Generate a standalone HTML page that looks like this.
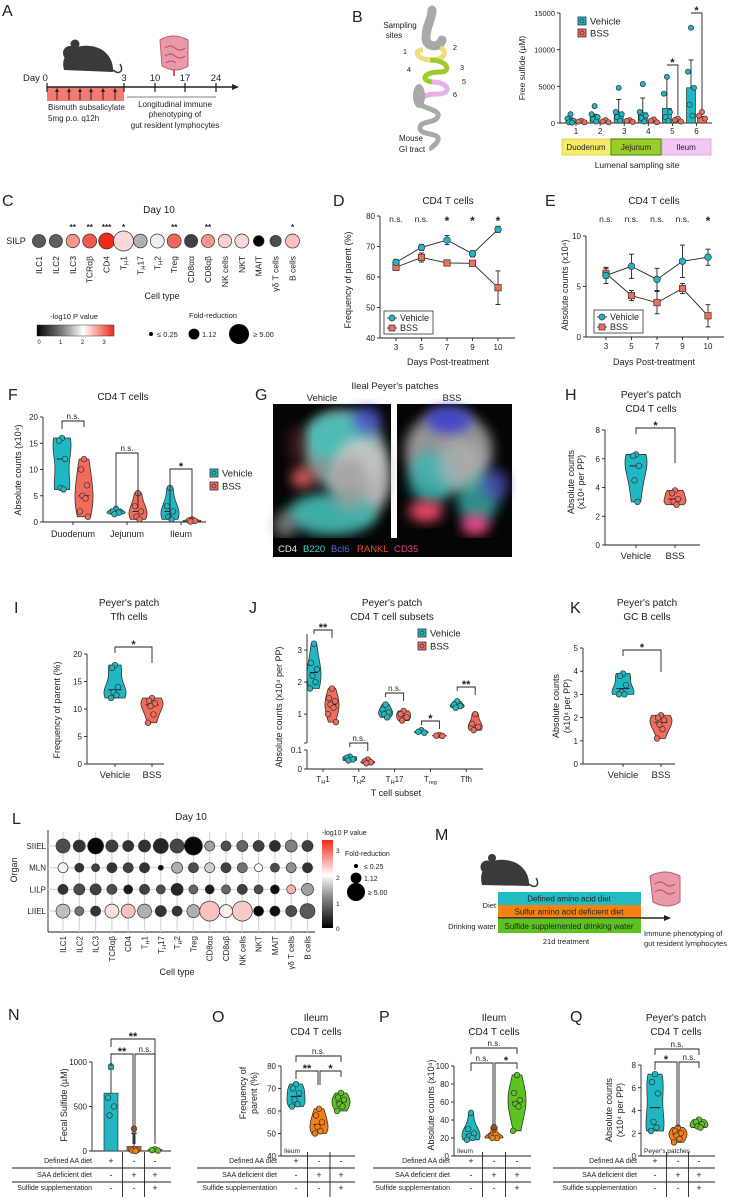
<!DOCTYPE html>
<html><head><meta charset="utf-8">
<style>
html,body{margin:0;padding:0;background:#fff;}
svg{display:block;font-family:"Liberation Sans",Arial,sans-serif;}
</style></head>
<body>
<svg id="fig" width="731" height="1199" viewBox="0 0 731 1199" xmlns="http://www.w3.org/2000/svg">
<defs>
<filter id="blur3" x="-20%" y="-20%" width="140%" height="140%"><feGaussianBlur stdDeviation="3"/></filter>
<filter id="blur6" x="-30%" y="-30%" width="160%" height="160%"><feGaussianBlur stdDeviation="6"/></filter>
<linearGradient id="gradH" x1="0" x2="1" y1="0" y2="0"><stop offset="0" stop-color="#000"/><stop offset="0.33" stop-color="#808080"/><stop offset="0.6" stop-color="#fff"/><stop offset="1" stop-color="#ee2a1a"/></linearGradient>
<linearGradient id="gradV" x1="0" x2="0" y1="1" y2="0"><stop offset="0" stop-color="#000"/><stop offset="0.33" stop-color="#808080"/><stop offset="0.6" stop-color="#fff"/><stop offset="1" stop-color="#ee2a1a"/></linearGradient>
</defs>
</svg>
<script>
// ---------------- DATA ----------------
const bSites = ['1','2','3','4','5','6'];
const bVehMean = [600, 900, 1500, 1400, 2000, 4800];
const bVehErr = [700, 1200, 3200, 3400, 6300, 8600];
const bBssMean = [200, 250, 300, 350, 400, 900];
const bVehPts = [[1200,600,300,100,50],[2300,1200,800,500,200],[4800,1500,1200,800,300],[5300,1500,1000,700,200],[6300,4000,1500,800,300],[13000,7000,4800,2500,1000]];
const bBssPts = [[300,200,100],[400,200,100],[400,300,150],[500,300,100],[600,400,200],[1500,1000,600]];

const cCells = ['ILC1','ILC2','ILC3','TCRαβ','CD4','T~H~1','T~H~17','T~H~2','Treg','CD8αα','CD8αβ','NK cells','NKT','MAIT','γδ T cells','B cells'];
const cPval = [0.7,0.75,2.5,2.9,3.2,2.05,1.3,1.7,2.8,0.5,2.5,2.1,2.05,0,0.6,2.2];
const cFold = [1.8,1.8,1.9,2.1,2.9,5.0,2.0,2.1,2.1,1.8,1.8,1.9,2.1,1.1,1.2,2.1];
const cSig = ['','','**','**','***','*','','','**','','**','','','','','*'];

const dDays = ['3','5','7','9','10'];
const dVeh = [64.8,69.7,72.1,67.6,75.6];
const dVehErr = [1,1,1.5,1,1];
const dBss = [63.2,66.4,64.6,64.5,56.5];
const dBssErr = [1,1.5,1,0.7,5.5];
const dSig = ['n.s.','n.s.','*','*','*'];

const eVeh = [6.1,7.0,5.7,7.5,7.9];
const eVehErr = [0.8,1.2,1.1,1.6,0.8];
const eBss = [6.3,4.1,3.4,4.8,2.1];
const eBssErr = [0.5,0.5,1.1,0.5,1.1];
const eSig = ['n.s.','n.s.','n.s.','n.s.','*'];

const fGroups = ['Duodenum','Jejunum','Ileum'];
const fVeh = [[16,15.5,12,6.5,6.2],[2.5,2,1.8,1.5],[6.5,3,2,1,0.5]];
const fBss = [[12,10,7,5,4.5,2,1],[5.5,3,2,1,0.5],[0.5,0.3,0.2,0.1]];
const fSig = ['n.s.','n.s.','*'];

const hVeh = [6.3,6.2,5.5,4.5,3.0];
const hBss = [3.8,3.6,3.2,3.0,2.8];
const iVeh = [18,17.5,14,13,12.5,12];
const iBss = [12,11.5,11,10.5,9,7.5];
const kVeh = [3.9,3.8,3.4,3.1,3.0,3.0];
const kBss = [2.1,2.0,1.9,1.7,1.5,1.1];

const jSubsets = ['T~H~1','T~H~2','T~H~17','T~reg~','Tfh'];
const jVeh = [[3.2,2.6,2.4,2.2,2.0,1.8],[0.065,0.06,0.05,0.045],[1.3,1.15,1.05,1.0,0.9],[0.5,0.45,0.42],[1.4,1.3,1.25,1.2]];
const jBss = [[1.8,1.5,1.4,1.3,1.2,1.0,0.75],[0.05,0.04,0.035,0.03],[1.1,1.0,0.9,0.8],[0.35,0.33,0.32],[1.0,0.7,0.6,0.5]];
const jSig = ['**','n.s.','n.s.','*','**'];

const lOrgans = ['SIIEL','MLN','LILP','LIIEL'];
const lPval = [
 [0.6,0.4,0.05,0.5,0.4,0.4,0.3,0.55,0.05,1.2,0.6,0.8,0.5,0.35,1.0,0.5],
 [1.9,0.4,0.5,0.4,0.5,0.4,0.05,1.3,0.6,1.5,0.5,0.9,1.8,0.6,1.1,0.4],
 [0.4,0.6,0.5,0.6,0.2,0.5,0.6,0.3,0.8,0.2,0.8,0.5,0.6,0.1,2.3,1.2],
 [1.4,0.9,0.4,2.0,2.2,1.3,0.4,0.4,1.3,2.2,1.9,2.15,0.05,0.1,0.6,0.7]];
const lFold = [
 [2.1,1.44,2.9,1.44,1.16,1.44,2.5,2.1,3.9,0.92,0.92,1.16,1.16,1.16,1.44,1.16],
 [0.92,0.71,0.55,0.92,0.92,0.92,0.27,1.16,0.92,0.92,0.92,0.92,0.55,0.71,0.92,0.92],
 [0.92,1.16,1.16,0.92,0.71,0.92,0.71,1.44,0.71,0.71,0.71,0.92,0.71,0.71,0.71,1.44],
 [2.1,0.71,0.92,2.1,2.1,2.1,1.16,0.92,1.75,5.0,1.75,5.0,0.92,0.92,1.16,2.5]];

const nMeans = [650, 50, 15];
const nErr = [920, 200, 30];
const nPts = [[950,600,500,400],[250,20,10,5,0],[20,10,5]];
const oPts = [[72,70,68,65,63,62],[61,58,55,53,51,50],[68,66,65,63,62,60]];
const pPts = [[48,30,25,22,20,18],[32,22,20,20],[90,70,62,58,55,28]];
const qPts = [[7.2,6.5,5.5,3.0,2.5,2.2],[2.5,2.2,2.0,1.8,1.5,1.2],[3.2,3.0,2.8,2.6,2.5]];
const tableRows = ['Defined AA diet','SAA deficient diet','Sulfide supplementation'];
const tableSigns = [['+','-','-'],['-','+','+'],['-','-','+']];

// ---------------- HELPERS ----------------
const NS='http://www.w3.org/2000/svg';
const svg=document.getElementById('fig');
const TEAL='#1fb8c2', SALMON='#f26b5b', ORANGE='#f57f0f', GREEN='#5cc421', INK='#222';
function mk(tag,attrs,parent){const e=document.createElementNS(NS,tag);for(const k in attrs)e.setAttribute(k,attrs[k]);(parent||svg).appendChild(e);return e;}
function lin(d0,d1,r0,r1){return v=>r0+(v-d0)*(r1-r0)/(d1-d0);}
function setTxt(t,s,fs){
  if(s.indexOf('~')<0){t.textContent=s;return;}
  const parts=s.split('~');
  parts.forEach((p,i)=>{if(!p)return;const sp=mk('tspan',{},t);sp.textContent=p;
    if(i%2===1){sp.setAttribute('font-size',fs*0.7);sp.setAttribute('dy',fs*0.25);}
    else if(i>0){sp.setAttribute('dy',-fs*0.25);}});
}
function tx(x,y,s,o,name){o=o||{};const fs=o.fs||9;
  const t=mk('text',{x:x,y:y,'font-size':fs,'text-anchor':o.a||'middle',fill:o.fill||INK,'font-weight':o.fw||'normal'},o.p);
  if(o.rot)t.setAttribute('transform','rotate('+o.rot+' '+x+' '+y+')');
  setTxt(t,s,fs);
  
  
  return t;}
function ln(x1,y1,x2,y2,o,name){o=o||{};const l=mk('line',{x1:x1,y1:y1,x2:x2,y2:y2,stroke:o.c||INK,'stroke-width':o.w||0.9},o.p);
  
  
  return l;}
function circ(cx,cy,r,fill,name,o){o=o||{};const c=mk('circle',{cx:cx,cy:cy,r:r,fill:fill,stroke:o.s||'#333','stroke-width':o.sw||0.7});
  
  
  return c;}
function rect(x,y,w,h,fill,name,o){o=o||{};const r=mk('rect',{x:x,y:y,width:w,height:h,fill:fill,stroke:o.s||'none','stroke-width':o.sw||0.8});
  
  
  return r;}
function path(d,o,name){const p=mk('path',Object.assign({d:d,fill:'none',stroke:INK,'stroke-width':0.9},o||{}));
  
  
  return p;}
function yAxis(x,sc,ticks,labels,o,name){o=o||{};const r=[sc(ticks[0]),sc(ticks[ticks.length-1])];
  ln(x,Math.max(r[0],r[1]),x,o.top!==undefined?o.top:Math.min(r[0],r[1]),{},name+'-line');
  ticks.forEach((t,i)=>{const y=sc(t);ln(x-3,y,x,y,{},name+'-tick');tx(x-5,y+3,labels[i],{a:'end',fs:o.fs||8},name+'-tick-label');});}
function pLetter(x,y,s){tx(x,y,s,{a:'start',fs:16},'panel-letter-'+s.toLowerCase());}
function bracket(x1,x2,y,drop1,drop2,label,name){path('M'+x1+','+(y+drop1)+' V'+y+' H'+x2+' V'+(y+drop2),{},name);
  const star=label.indexOf('*')>=0;tx((x1+x2)/2,y-(star?-1:2),label,{fs:star?11:8,fw:star?'bold':'normal'},name+'-label');}
function jit(i){return [0,-3,3,-1.5,1.5,-4,4][i%7];}
function violin(cx,vals,sc,color,name,hw){hw=hw||9;
  const mn=Math.min(...vals),mx=Math.max(...vals);const bw=(mx-mn)*0.3||0.01;const N=24;const dens=[];
  for(let i=0;i<=N;i++){const v=mn+(mx-mn)*i/N;let d=0;vals.forEach(p=>{d+=Math.exp(-0.5*((v-p)/bw)**2);});dens.push([v,d]);}
  const dm=Math.max(...dens.map(d=>d[1]));
  let L='',R='';dens.forEach((d,i)=>{const w=hw*d[1]/dm;const y=sc(d[0]);L+=(i?'L':'M')+(cx-w)+','+y;});
  for(let i=N;i>=0;i--){const w=hw*dens[i][1]/dm;R+='L'+(cx+w)+','+sc(dens[i][0]);}
  path(L+R+'Z',{fill:color,stroke:'#333','stroke-width':0.8},name+'-violin');
  const s=[...vals].sort((a,b)=>a-b);const med=s.length%2?s[(s.length-1)/2]:(s[s.length/2-1]+s[s.length/2])/2;
  ln(cx-hw*0.6,sc(med),cx+hw*0.6,sc(med),{c:'#222',w:1},name+'-median');
  vals.forEach((v,i)=>circ(cx+jit(i),sc(v),2.8,color,name+'-point'));}
function legendSq(x,y,color,label,name){rect(x,y-4,8,8,color,name+'-swatch',{s:'#333'});circ(x+4,y,2,color,name+'-swatch-dot');tx(x+12,y+3.5,label,{a:'start',fs:9.5},name+'-text');}
function pColor(p){const stops=[[0,[0,0,0]],[1,[128,128,128]],[1.8,[255,255,255]],[3.2,[238,42,26]]];
  p=Math.max(0,Math.min(3.2,p));for(let i=0;i<stops.length-1;i++){const a=stops[i],b=stops[i+1];if(p<=b[0]){const t=(p-a[0])/(b[0]-a[0]);
  const c=a[1].map((v,k)=>Math.round(v+(b[1][k]-v)*t));return 'rgb('+c.join(',')+')';}}return 'rgb(238,42,26)';}
function fRad(f){return 2+8*Math.sqrt(Math.max(0,(f-0.25)/4.75));}

// ---------------- PANEL A ----------------
pLetter(2,16,'A');
path('M64,70 C60,55 72,44 90,46 C104,47 114,58 113,72 Z',{fill:'#3a3a3a',stroke:'none'},'mouse-body');
circ(70,53,7,'#3a3a3a','mouse-head',{s:'none'});circ(75,44,4.5,'#3a3a3a','mouse-ear',{s:'none'});
path('M113,70 C120,76 124,70 120,64',{stroke:'#3a3a3a','stroke-width':1.5},'mouse-tail');
path('M160,40 Q173,32 188,40 L188,66 Q176,74 162,66 Z',{fill:'#e89aa8',stroke:'#c55a70','stroke-width':1},'intestine-icon');
path('M165,48 q5,-4 10,0 t10,0 M165,56 q5,-4 10,0 t10,0 M166,63 q5,-4 10,0',{stroke:'#b04a60','stroke-width':1},'intestine-folds');
ln(174,70,174,76,{c:'#c55a70',w:2},'intestine-end');
tx(23,81,'Day 0',{a:'start',fs:9.5},'day-0-label');
rect(47,87,77,14,'#f47b72','treatment-box');
const aTicks=[124,155,185,216];['3','10','17','24'].forEach((d,i)=>{tx(aTicks[i],81,d,{fs:9.5},'day-label');});
ln(47,87,232,87,{w:1.4},'timeline-axis');path('M232,84 L239,87 L232,90 Z',{fill:INK,stroke:'none'},'timeline-arrowhead');
[47,124,155,185,216].forEach(x=>ln(x,83,x,92,{w:1.2},'timeline-tick'));
[57,69,80,91,103,115].forEach(x=>{ln(x,100,x,90,{w:1},'dose-arrow');path('M'+(x-2)+',92 L'+x+',88 L'+(x+2)+',92Z',{fill:INK,stroke:'none'},'dose-arrowhead');});
ln(127,97,216,97,{c:'#555',w:0.7},'phenotyping-line');
tx(48,110,'Bismuth subsalicylate',{a:'start',fs:8},'bss-text');
tx(48,121,'5mg p.o. q12h',{a:'start',fs:8},'dose-text');
tx(175,107,'Longitudinal immune',{fs:8},'phenotyping-text-1');
tx(175,117,'phenotyping of',{fs:8},'phenotyping-text-2');
tx(175,128,'gut resident lymphocytes',{fs:8},'phenotyping-text-3');

// ---------------- PANEL B ----------------
pLetter(352,22,'B');
path('M432,10 C432,20 426,25 426,38 C426,48 440,48 442,40',{stroke:'#a9a9a9','stroke-width':9,'stroke-linecap':'round'},'gi-stomach');
path('M423,50 C412,50 418,60 430,60 C446,60 448,50 440,48',{stroke:'#f0dc80','stroke-width':5},'gi-duodenum');
path('M430,60 C448,60 452,72 440,72 C424,72 420,80 432,82',{stroke:'#9ccc2a','stroke-width':5},'gi-jejunum');
path('M432,82 C450,82 452,94 438,94 C424,94 420,98 420,100',{stroke:'#e6b0e6','stroke-width':5},'gi-ileum');
path('M420,100 C414,108 440,108 438,116 C436,124 420,120 420,128 C420,136 440,132 438,140 C436,146 430,146 432,150',{stroke:'#a9a9a9','stroke-width':5},'gi-lower');
const cecum=mk('ellipse',{cx:419,cy:96,rx:6,ry:12,fill:'#a9a9a9'});


[['1',405,54],['2',455,50],['3',462,70],['4',409,72],['5',464,84],['6',455,97]].forEach(n=>tx(n[1],n[2],n[0],{fs:7.5},'site-number'));
tx(400,28,'Sampling',{fs:8},'sampling-sites-label');tx(394,38,'sites',{fs:8},'sampling-sites-label');
tx(411,141,'Mouse',{fs:8},'mouse-gi-label');tx(412,152,'GI tract',{fs:8},'mouse-gi-label');
const bY=lin(0,15000,123,13);const bX=i=>576+i*24.1;
yAxis(560,bY,[0,5000,10000,15000],['0','5000','10000','15000'],{fs:7.5},'b-y-axis');
ln(560,123,712,123,{},'b-x-axis');
tx(525,68,'Free sulfide (µM)',{rot:-90,fs:8.5},'b-y-title');
bSites.forEach((s,i)=>{const xv=bX(i)-5.5,xb=bX(i)+5.5;
  rect(xv-4.5,bY(bVehMean[i]),9,bY(0)-bY(bVehMean[i]),TEAL,'b-bar-vehicle',{s:'#333',sw:0.7});
  ln(xv,bY(bVehMean[i]),xv,bY(bVehErr[i]),{},'b-errbar');ln(xv-2.5,bY(bVehErr[i]),xv+2.5,bY(bVehErr[i]),{},'b-errcap');
  bVehPts[i].forEach((v,k)=>circ(xv+jit(k),bY(v),2.6,TEAL,'b-point-vehicle'));
  rect(xb-4.5,bY(bBssMean[i]),9,bY(0)-bY(bBssMean[i]),SALMON,'b-bar-bss',{s:'#333',sw:0.7});
  bBssPts[i].forEach((v,k)=>circ(xb+jit(k),bY(v),2.6,SALMON,'b-point-bss'));
  ln(bX(i),123,bX(i),126,{},'b-x-tick');tx(bX(i),134,s,{fs:8},'b-x-label');});
rect(562,139,49,16,'#f6ea6a','duodenum-box',{s:'#e0d040'});tx(586,150,'Duodenum',{fs:8},'duodenum-label');
rect(611,139,50,16,'#9ccc2a','jejunum-box',{s:'#4a9a1a',sw:1.2});tx(636,150,'Jejunum',{fs:8},'jejunum-label');
rect(662,139,49,16,'#f3c6f3','ileum-box',{s:'#d8a0d8'});tx(686,150,'Ileum',{fs:8},'ileum-label');
tx(637,168,'Lumenal sampling site',{fs:8.5},'b-x-title');
legendSq(578,21,TEAL,'Vehicle','b-legend-vehicle');legendSq(578,33,SALMON,'BSS','b-legend-bss');
bracket(bX(4)-5.5,bX(4)+5.5,65,0,50,'*','b-sig-site5');
bracket(bX(5)-5.5,bX(5)+5.5,13,0,96,'*','b-sig-site6');

// ---------------- PANEL C ----------------
pLetter(2,206,'C');
tx(159,213,'Day 10',{fs:10},'c-title');
tx(16,244,'SILP',{fs:9},'silp-label');
const cX=i=>39+i*16.9;
cCells.forEach((c,i)=>{circ(cX(i),241,fRad(cFold[i]),pColor(cPval[i]),'c-bubble');
  if(cSig[i])tx(cX(i),230,cSig[i],{fs:8,fw:'bold'},'c-sig');
  tx(cX(i)+3,256,c,{a:'end',rot:-90,fs:8.5},'c-cell-label');});
tx(162,299,'Cell type',{fs:9},'c-x-title');
tx(74,319,'-log10 P value',{fs:7.5},'c-colorbar-title');
rect(37,325,77,11,'url(#gradH)','c-colorbar',{s:'#333',sw:0.5});
['0','1','2','3'].forEach((l,i)=>tx(39+i*21.7,344,l,{fs:6},'c-colorbar-tick'));
tx(213,318,'Fold-reduction',{fs:7.5},'c-size-legend-title');
circ(151,334,fRad(0.25),'#000','c-size-small',{s:'none'});tx(157,337,'≤ 0.25',{a:'start',fs:7.5},'c-size-small-label');
circ(194,334,fRad(1.12),'#000','c-size-mid',{s:'none'});tx(202,337,'1.12',{a:'start',fs:7.5},'c-size-mid-label');
circ(239,334,fRad(5),'#000','c-size-big',{s:'none'});tx(253,337,'≥ 5.00',{a:'start',fs:7.5},'c-size-big-label');

// ---------------- PANEL D / E ----------------
function linePanel(opt){
  const {xs,ys,veh,vehErr,bss,bssErr,sig,name}=opt;
  yAxis(opt.ax,ys,opt.ticks,opt.tickLabels,{},name+'-y-axis');
  ln(opt.ax,opt.y0,opt.xend,opt.y0,{},name+'-x-axis');
  dDays.forEach((d,i)=>{ln(xs(i),opt.y0,xs(i),opt.y0+3,{},name+'-x-tick');tx(xs(i),opt.y0+12,d,{fs:8},name+'-x-label');
    tx(xs(i),opt.sigY+(sig[i]==='*'?3:0),sig[i],{fs:sig[i]==='*'?12:8.5,fw:sig[i]==='*'?'bold':'normal'},name+'-sig');});
  let pv='',pb='';veh.forEach((v,i)=>{pv+=(i?'L':'M')+xs(i)+','+ys(v);});bss.forEach((v,i)=>{pb+=(i?'L':'M')+xs(i)+','+ys(v);});
  path(pv,{},name+'-line-vehicle');path(pb,{},name+'-line-bss');
  veh.forEach((v,i)=>{ln(xs(i),ys(v-vehErr[i]),xs(i),ys(v+vehErr[i]),{},name+'-err-vehicle');ln(xs(i)-2.5,ys(v+vehErr[i]),xs(i)+2.5,ys(v+vehErr[i]),{},name+'-errcap');ln(xs(i)-2.5,ys(v-vehErr[i]),xs(i)+2.5,ys(v-vehErr[i]),{},name+'-errcap');});
  bss.forEach((v,i)=>{ln(xs(i),ys(v-bssErr[i]),xs(i),ys(v+bssErr[i]),{},name+'-err-bss');ln(xs(i)-2.5,ys(v+bssErr[i]),xs(i)+2.5,ys(v+bssErr[i]),{},name+'-errcap');ln(xs(i)-2.5,ys(v-bssErr[i]),xs(i)+2.5,ys(v-bssErr[i]),{},name+'-errcap');});
  bss.forEach((v,i)=>rect(xs(i)-3.2,ys(v)-3.2,6.4,6.4,SALMON,name+'-marker-bss',{s:'#333',sw:0.7}));
  veh.forEach((v,i)=>circ(xs(i),ys(v),3.3,TEAL,name+'-marker-vehicle'));
  rect(opt.lx,opt.ly,49,23,'#fff',name+'-legend-box',{s:'#333',sw:0.8});
  ln(opt.lx+3,opt.ly+7,opt.lx+13,opt.ly+7,{},name+'-legend-line');circ(opt.lx+8,opt.ly+7,3,TEAL,name+'-legend-marker-vehicle');tx(opt.lx+16,opt.ly+10,'Vehicle',{a:'start',fs:9},name+'-legend-vehicle');
  ln(opt.lx+3,opt.ly+17,opt.lx+13,opt.ly+17,{},name+'-legend-line');rect(opt.lx+5,opt.ly+14,6,6,SALMON,name+'-legend-marker-bss',{s:'#333',sw:0.7});tx(opt.lx+16,opt.ly+20,'BSS',{a:'start',fs:9},name+'-legend-bss');
  tx(opt.titleX,204,'CD4 T cells',{fs:10},name+'-title');
  tx(opt.titleX,365,'Days Post-treatment',{fs:9},name+'-x-title');
}
pLetter(333,206,'D');
linePanel({xs:i=>396+i*25.5,ys:lin(40,80,338,216),veh:dVeh,vehErr:dVehErr,bss:dBss,bssErr:dBssErr,sig:dSig,name:'d',ax:380,y0:338,xend:515,
  ticks:[40,50,60,70,80],tickLabels:['40','50','60','70','80'],sigY:222,lx:384,ly:311,titleX:448});
tx(351,280,'Frequency of parent (%)',{rot:-90,fs:9},'d-y-title');
pLetter(545,206,'E');
linePanel({xs:i=>606+i*25.5,ys:lin(0,10,337,236),veh:eVeh,vehErr:eVehErr,bss:eBss,bssErr:eBssErr,sig:eSig,name:'e',ax:586,y0:337,xend:724,
  ticks:[0,5,10],tickLabels:['0','5','10'],sigY:222,lx:594,ly:310,titleX:654});
tx(568,285,'Absolute counts (x10⁴)',{rot:-90,fs:9},'e-y-title');

// ---------------- PANEL F ----------------
pLetter(8,400,'F');
tx(123,400,'CD4 T cells',{fs:10},'f-title');
const fY=lin(0,20,522,417);const fX=[73,127,181];
yAxis(43,fY,[0,5,10,15,20],['0','5','10','15','20'],{},'f-y-axis');
ln(43,522,206,522,{},'f-x-axis');
tx(21,470,'Absolute counts (x10⁴)',{rot:-90,fs:9},'f-y-title');
fGroups.forEach((g,i)=>{ln(fX[i],522,fX[i],525,{},'f-x-tick');tx(fX[i],537,g,{fs:9},'f-x-label');
  violin(fX[i]-11,fVeh[i],fY,TEAL,'f-vehicle');violin(fX[i]+11,fBss[i],fY,SALMON,'f-bss');});
bracket(fX[0]-11,fX[0]+11,421,8,6,fSig[0],'f-sig-duodenum');
bracket(fX[1]-11,fX[1]+11,453,55,55,fSig[1],'f-sig-jejunum');
bracket(fX[2]-11,fX[2]+11,469,50,50,fSig[2],'f-sig-ileum');
legendSq(210,473,TEAL,'Vehicle','f-legend-vehicle');legendSq(210,486,SALMON,'BSS','f-legend-bss');

// ---------------- PANEL G ----------------
pLetter(255,400,'G');
tx(395,389,"Ileal Peyer's patches",{fs:9.5},'g-title');
tx(322,401,'Vehicle',{fs:9.5},'g-vehicle-label');tx(452,401,'BSS',{fs:9.5},'g-bss-label');
function micro(x,w,blobs,name){rect(x,404,w,134,'#050505',name+'-bg');
  blobs.forEach(b=>{const e=mk('ellipse',{cx:x+b[0]*w,cy:404+b[1]*134,rx:b[2]*w,ry:b[3]*134,fill:b[4],opacity:b[5],filter:b[6]||'url(#blur6)'});
    
    });}
micro(273,118,[[0.6,0.35,0.35,0.3,'#8fa6a6',0.9],[0.55,0.25,0.28,0.18,'#4cc0b8',0.9],[0.75,0.55,0.25,0.3,'#c8c8c8',0.9],[0.5,0.82,0.38,0.16,'#45b5ad',0.95],[0.25,0.55,0.1,0.08,'#ff6a6a',0.8],[0.8,0.12,0.12,0.1,'#4b52d0',0.8],[0.1,0.9,0.1,0.1,'#b0b0b0',0.6],[0.65,0.6,0.15,0.2,'#9a9a9a',0.7],[0.2,0.3,0.08,0.15,'#5a2020',0.6]],'g-vehicle-image');
micro(397,115,[[0.45,0.35,0.38,0.3,'#a5a5a5',0.9],[0.3,0.55,0.2,0.2,'#3cb5b0',0.85],[0.45,0.12,0.2,0.1,'#3b3fd0',0.9],[0.7,0.7,0.18,0.2,'#38a8a0',0.85],[0.25,0.8,0.15,0.08,'#ff5070',0.9],[0.68,0.9,0.12,0.08,'#ff4a90',0.9],[0.85,0.6,0.12,0.12,'#5050c0',0.7],[0.55,0.45,0.2,0.18,'#b8b8b8',0.6]],'g-bss-image');
rect(273,538,239,19,'#050505','g-channel-bar');
const gCh=[['CD4','#e8e8e8',278],['B220','#4fd0c8',303],['Bcl6','#4a6ae0',331],['RANKL','#f0502a',357],['CD35','#f03c8c',394]];
gCh.forEach(c=>tx(c[2],552,c[0],{a:'start',fs:9.5,fill:c[1]},'g-channel-'+c[0].toLowerCase()));

// ---------------- PANEL H, I, K ----------------
function twoViolin(o){yAxis(o.ax,o.ys,o.ticks,o.ticks.map(String),{},o.name+'-y-axis');
  ln(o.ax,o.ys(o.ticks[0]),o.xend,o.ys(o.ticks[0]),{},o.name+'-x-axis');
  ['Vehicle','BSS'].forEach((l,i)=>{ln(o.xs[i],o.ys(o.ticks[0]),o.xs[i],o.ys(o.ticks[0])+3,{},o.name+'-x-tick');tx(o.xs[i],o.ys(o.ticks[0])+14,l,{fs:9.5},o.name+'-x-label');});
  violin(o.xs[0],o.veh,o.ys,TEAL,o.name+'-vehicle',11);violin(o.xs[1],o.bss,o.ys,SALMON,o.name+'-bss',11);
  bracket(o.xs[0],o.xs[1],o.by,6,o.bdrop,'*',o.name+'-sig');}
pLetter(565,400,'H');
tx(651,398,"Peyer's patch",{fs:10},'h-title-1');tx(651,412,'CD4 T cells',{fs:10},'h-title-2');
twoViolin({ax:605,ys:lin(0,8,545,430),ticks:[0,2,4,6,8],xend:700,xs:[636,675],veh:hVeh,bss:hBss,by:428,bdrop:35,name:'h'});
tx(574,482,'Absolute counts',{rot:-90,fs:9},'h-y-title-1');tx(584,482,'(x10⁴ per PP)',{rot:-90,fs:9},'h-y-title-2');
pLetter(14,613,'I');
tx(129,606,"Peyer's patch",{fs:10},'i-title-1');tx(129,620,'Tfh cells',{fs:10},'i-title-2');
twoViolin({ax:87,ys:lin(0,20,764,654),ticks:[0,5,10,15,20],xend:164,xs:[115,152],veh:iVeh,bss:iBss,by:647,bdrop:16,name:'i'});
tx(60,710,'Frequency of parent (%)',{rot:-90,fs:9},'i-y-title');
pLetter(570,613,'K');
tx(647,606,"Peyer's patch",{fs:10},'k-title-1');tx(647,620,'GC B cells',{fs:10},'k-title-2');
twoViolin({ax:583,ys:lin(0,5,764,648),ticks:[0,1,2,3,4,5],xend:675,xs:[623,661],veh:kVeh,bss:kBss,by:650,bdrop:22,name:'k'});
tx(559,706,'Absolute counts',{rot:-90,fs:9},'k-y-title-1');tx(570,706,'(x10⁴ per PP)',{rot:-90,fs:9},'k-y-title-2');

// ---------------- PANEL J ----------------
pLetter(249,613,'J');
tx(392,606,"Peyer's patch",{fs:10},'j-title-1');tx(392,620,'CD4 T cell subsets',{fs:10},'j-title-2');
const jUp=lin(0.1,3.5,743,634),jLo=lin(0,0.1,769,750);const jY=v=>v<0.1?jLo(v):jUp(v);
ln(307,743,307,634,{},'j-y-axis-upper');ln(307,769,307,750,{},'j-y-axis-lower');
[[1,'1'],[2,'2'],[3,'3']].forEach(t=>{ln(304,jUp(t[0]),307,jUp(t[0]),{},'j-y-tick');tx(302,jUp(t[0])+3,t[1],{a:'end',fs:8},'j-y-tick-label');});
[[0,'0'],[0.1,'0.1']].forEach(t=>{ln(304,jLo(t[0]),307,jLo(t[0]),{},'j-y-tick');tx(302,jLo(t[0])+3,t[1],{a:'end',fs:8},'j-y-tick-label');});
ln(304,743,307,743,{},'j-y-break-tick');
ln(307,769,483,769,{},'j-x-axis');
tx(282,707,'Absolute counts (x10⁴ per PP)',{rot:-90,fs:9},'j-y-title');
const jX=i=>323+i*35.8;
jSubsets.forEach((s,i)=>{ln(jX(i),769,jX(i),772,{},'j-x-tick');tx(jX(i),782,s,{fs:8},'j-x-label');
  violin(jX(i)-9,jVeh[i],jY,TEAL,'j-vehicle',7);violin(jX(i)+9,jBss[i],jY,SALMON,'j-bss',7);});
tx(396,796,'T cell subset',{fs:9},'j-x-title');
legendSq(418,633,TEAL,'Vehicle','j-legend-vehicle');legendSq(418,646,SALMON,'BSS','j-legend-bss');
const jBy=[630,743,693,721,687];
jSubsets.forEach((s,i)=>bracket(jX(i)-9,jX(i)+9,jBy[i],4,8,jSig[i],'j-sig'));

// ---------------- PANEL L ----------------
pLetter(12,824,'L');
tx(191,820,'Day 10',{fs:10},'l-title');
const lX=i=>63+i*16.3;const lY=r=>846+r*21.7;
ln(48,830,48,932,{},'l-y-axis');ln(48,932,315,932,{},'l-x-axis');
cCells.forEach((c,i)=>{ln(lX(i),832,lX(i),932,{c:'#d6d6d6',w:1.2},'l-gridline-v');tx(lX(i)+3,936,c,{a:'end',rot:-90,fs:8},'l-cell-label');});
lOrgans.forEach((o,r)=>{ln(48,lY(r),315,lY(r),{c:'#d6d6d6',w:1.2},'l-gridline-h');tx(46,lY(r)+3,o,{a:'end',fs:8},'l-organ-label');
  lPval[r].forEach((p,i)=>circ(lX(i),lY(r),fRad(lFold[r][i]),pColor(p),'l-bubble'));});
tx(17,870,'Organ',{rot:-90,fs:9},'l-y-title');
tx(177,975,'Cell type',{fs:9},'l-x-title');
rect(322,840,11,88,'url(#gradV)','l-colorbar');
[['3',850],['2',877],['1',903],['0',928]].forEach(t=>tx(336,t[1]+3,t[0],{a:'start',fs:6.5},'l-colorbar-tick'));
tx(322,835,'-log10 P value',{a:'start',fs:7},'l-colorbar-title');
tx(345,856,'Fold-reduction',{a:'start',fs:7},'l-size-title');
circ(356,866,fRad(0.25),'#000','l-size-small',{s:'none'});tx(364,869,'≤ 0.25',{a:'start',fs:7},'l-size-small-label');
circ(356,878,fRad(1.12),'#000','l-size-mid',{s:'none'});tx(364,881,'1.12',{a:'start',fs:7},'l-size-mid-label');
circ(356,892,9,'#000','l-size-big',{s:'none'});tx(368,895,'≥ 5.00',{a:'start',fs:7},'l-size-big-label');

// ---------------- PANEL M ----------------
pLetter(435,840,'M');
path('M482,885 C478,870 488,858 505,860 C520,861 530,872 529,886 Z',{fill:'#3a3a3a',stroke:'none'},'m-mouse-body');
circ(487,867,6.5,'#3a3a3a','m-mouse-head',{s:'none'});circ(492,858,4,'#3a3a3a','m-mouse-ear',{s:'none'});
path('M529,884 C536,890 540,884 536,878',{stroke:'#3a3a3a','stroke-width':1.5},'m-mouse-tail');
path('M650,876 Q665,868 680,876 L680,902 Q668,910 653,902 Z',{fill:'#e89aa8',stroke:'#c55a70','stroke-width':1},'m-intestine');
path('M655,884 q5,-4 10,0 t10,0 M655,892 q5,-4 10,0 t10,0',{stroke:'#b04a60','stroke-width':1},'m-intestine-folds');
rect(498,892,143,13,'#23bcc4','m-bar-defined-diet');tx(569,901.5,'Defined amino acid diet',{fs:8},'m-defined-diet-text');
rect(498,905,143,13,'#f5820f','m-bar-saa-diet');tx(569,914.5,'Sulfur amino acid deficient diet',{fs:8},'m-saa-diet-text');
rect(498,919,143,14,'#5ec31f','m-bar-sulfide-water');tx(569,929,'Sulfide supplemented drinking water',{fs:8},'m-sulfide-text');
ln(498,918,665,918,{w:1.4},'m-timeline');path('M664,915 L671,918 L664,921 Z',{fill:INK,stroke:'none'},'m-arrowhead');
tx(496,908,'Diet',{a:'end',fs:7.5},'m-diet-label');tx(496,929,'Drinking water',{a:'end',fs:7.5},'m-water-label');
tx(566,944,'21d treatment',{fs:7.5},'m-duration-label');
tx(644,936,'Immune phenotyping of',{a:'start',fs:7.5},'m-outcome-1');tx(644,946,'gut resident lymphocytes',{a:'start',fs:7.5},'m-outcome-2');

// ---------------- PANELS N-Q ----------------
const grpColors=[TEAL,ORANGE,GREEN];
function table(xs,x0,x1,right,name){
  const ys=[1161,1175,1188];
  tableRows.forEach((r,k)=>{tx(right,ys[k]+2,r,{a:'end',fs:7},name+'-row-label');
    xs.forEach((x,i)=>tx(x,ys[k]+3,tableSigns[k][i],{fs:9},name+'-sign'));});
  ln(x0,1168,x1,1168,{w:0.9},name+'-row-line');ln(x0,1182,x1,1182,{w:0.9},name+'-row-line');
  for(let i=0;i<xs.length-1;i++){const xm=(xs[i]+xs[i+1])/2;ln(xm,1152,xm,1197,{w:0.9},name+'-col-line');}}
// N
pLetter(8,1020,'N');
const nY=lin(0,1000,1151,1062);const nX=[111,134,155];
yAxis(92,nY,[0,500,1000],['0','500','1000'],{},'n-y-axis');
ln(92,1151,171,1151,{},'n-x-axis');
tx(67,1105,'Fecal Sulfide (µM)',{rot:-90,fs:9},'n-y-title');
nMeans.forEach((m,i)=>{rect(nX[i]-7,nY(m),14,nY(0)-nY(m),grpColors[i],'n-bar',{s:'#333',sw:0.7});
  ln(nX[i],nY(m),nX[i],nY(nErr[i]),{},'n-errbar');ln(nX[i]-3,nY(nErr[i]),nX[i]+3,nY(nErr[i]),{},'n-errcap');
  nPts[i].forEach((v,k)=>circ(nX[i]+jit(k),nY(v),2.8,grpColors[i],'n-point'));});
bracket(nX[0],nX[2],1039,8,95,'**','n-sig-top');
bracket(nX[0],nX[1]-1,1054,12,90,'**','n-sig-1');bracket(nX[1]+1,nX[2],1054,90,90,'n.s.','n-sig-2');
table(nX,12,171,92,'n-table');
function violPanel(o){yAxis(o.ax,o.ys,o.ticks,o.ticks.map(String),{},o.name+'-y-axis');
  ln(o.ax,1156,o.xend,1156,{},o.name+'-x-axis');
  o.pts.forEach((p,i)=>violin(o.xs[i],p,o.ys,grpColors[i],o.name+'-group',9));
  bracket(o.xs[0],o.xs[2],o.b1,6,6,o.sig[0],o.name+'-sig-top');
  bracket(o.xs[0],o.xs[1]-1,o.b2,8,o.d2,o.sig[1],o.name+'-sig-1');bracket(o.xs[1]+1,o.xs[2],o.b2,o.d2,6,o.sig[2],o.name+'-sig-2');
  tx(o.ax+3,1153,o.site,{a:'start',fs:6.5},o.name+'-site-label');
  tx(o.titleX,1021,o.t1,{fs:10},o.name+'-title-1');tx(o.titleX,1035,'CD4 T cells',{fs:10},o.name+'-title-2');
  table(o.xs,o.tx0,o.xend,o.right,o.name+'-table');}
pLetter(212,1022,'O');
violPanel({ax:281,ys:lin(40,80,1156,1066),ticks:[40,50,60,70,80],xs:[296,319,341],pts:oPts,xend:355,tx0:197,right:277,
  b1:1056,b2:1071,d2:14,sig:['n.s.','**','*'],site:'Ileum',titleX:316,t1:'Ileum',name:'o'});
tx(246,1093,'Frequency of',{rot:-90,fs:9},'o-y-title-1');tx(257,1093,'parent (%)',{rot:-90,fs:9},'o-y-title-2');
pLetter(379,1022,'P');
violPanel({ax:454,ys:lin(0,100,1156,1066),ticks:[0,20,40,60,80,100],xs:[471,494,517],pts:pPts,xend:531,tx0:373,right:450,
  b1:1048,b2:1063,d2:70,sig:['n.s.','n.s.','*'],site:'Ileum',titleX:494,t1:'Ileum',name:'p'});
tx(434,1105,'Absolute counts (x10⁴)',{rot:-90,fs:9},'p-y-title');
pLetter(570,1022,'Q');
violPanel({ax:641,ys:lin(0,8,1156,1065),ticks:[0,2,4,6,8],xs:[655,678,699],pts:qPts,xend:715,tx0:553,right:637,
  b1:1049,b2:1062,d2:65,sig:['n.s.','*','n.s.'],site:"Peyer's patches",titleX:676,t1:"Peyer's patch",name:'q'});
tx(612,1110,'Absolute counts',{rot:-90,fs:9},'q-y-title-1');tx(623,1110,'(x10⁴ per PP)',{rot:-90,fs:9},'q-y-title-2');
</script>
</body></html>
